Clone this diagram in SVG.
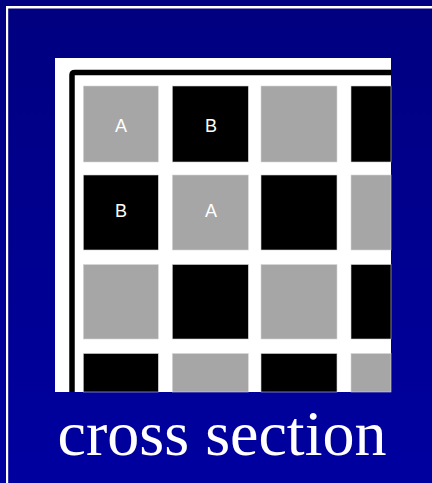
<svg xmlns="http://www.w3.org/2000/svg" width="432" height="483" viewBox="0 0 432 483">
<defs>
<linearGradient id="bg" x1="0" y1="0" x2="0" y2="1">
<stop offset="0" stop-color="#000080"/>
<stop offset="1" stop-color="#0000A0"/>
</linearGradient>
</defs>
<style>
.g{fill:#A6A6A6;stroke:#D8D8D8;stroke-width:0.6}
.k{fill:#000000;stroke:#D0D0D0;stroke-width:0.6}
.lbl{font-family:"Liberation Sans",Arial,sans-serif;font-size:18px;fill:#FFFFFF;text-anchor:middle}
.cap{font-family:"Liberation Serif","Times New Roman",serif;font-size:64px;fill:#FFFFFF;text-anchor:middle}
</style>
<rect width="432" height="483" fill="url(#bg)"/>
<rect x="6" y="6" width="426" height="2.5" fill="#FFFFFF"/>
<rect x="6" y="6" width="2.2" height="477" fill="#FFFFFF"/>
<g id="panel">
<rect x="55" y="58" width="336" height="334" fill="#FFFFFF"/>
<path d="M72 392 V75 Q72 72.5 75 72.5 H391" fill="none" stroke="#000000" stroke-width="5.5"/>
</g>
<g id="grid">
<rect class="g" x="83.3" y="86" width="75" height="76"/>
<rect class="k" x="172.3" y="86" width="76" height="76"/>
<rect class="g" x="261" y="86" width="76" height="76"/>
<rect class="k" x="351" y="86" width="40" height="76"/>
<rect class="k" x="83.3" y="175" width="75" height="75"/>
<rect class="g" x="172.3" y="175" width="76" height="75"/>
<rect class="k" x="261" y="175" width="76" height="75"/>
<rect class="g" x="351" y="175" width="40" height="75"/>
<rect class="g" x="83.3" y="264.5" width="75" height="74.5"/>
<rect class="k" x="172.3" y="264.5" width="76" height="74.5"/>
<rect class="g" x="261" y="264.5" width="76" height="74.5"/>
<rect class="k" x="351" y="264.5" width="40" height="74.5"/>
<rect class="k" x="83.3" y="353.5" width="75" height="38.5"/>
<rect class="g" x="172.3" y="353.5" width="76" height="38.5"/>
<rect class="k" x="261" y="353.5" width="76" height="38.5"/>
<rect class="g" x="351" y="353.5" width="40" height="38.5"/>
</g>
<g id="labels">
<text class="lbl" x="121" y="131.5">A</text>
<text class="lbl" x="211" y="131.5">B</text>
<text class="lbl" x="121" y="216.5">B</text>
<text class="lbl" x="211" y="216.5">A</text>
</g>
<text class="cap" x="222" y="455">cross section</text>
</svg>
